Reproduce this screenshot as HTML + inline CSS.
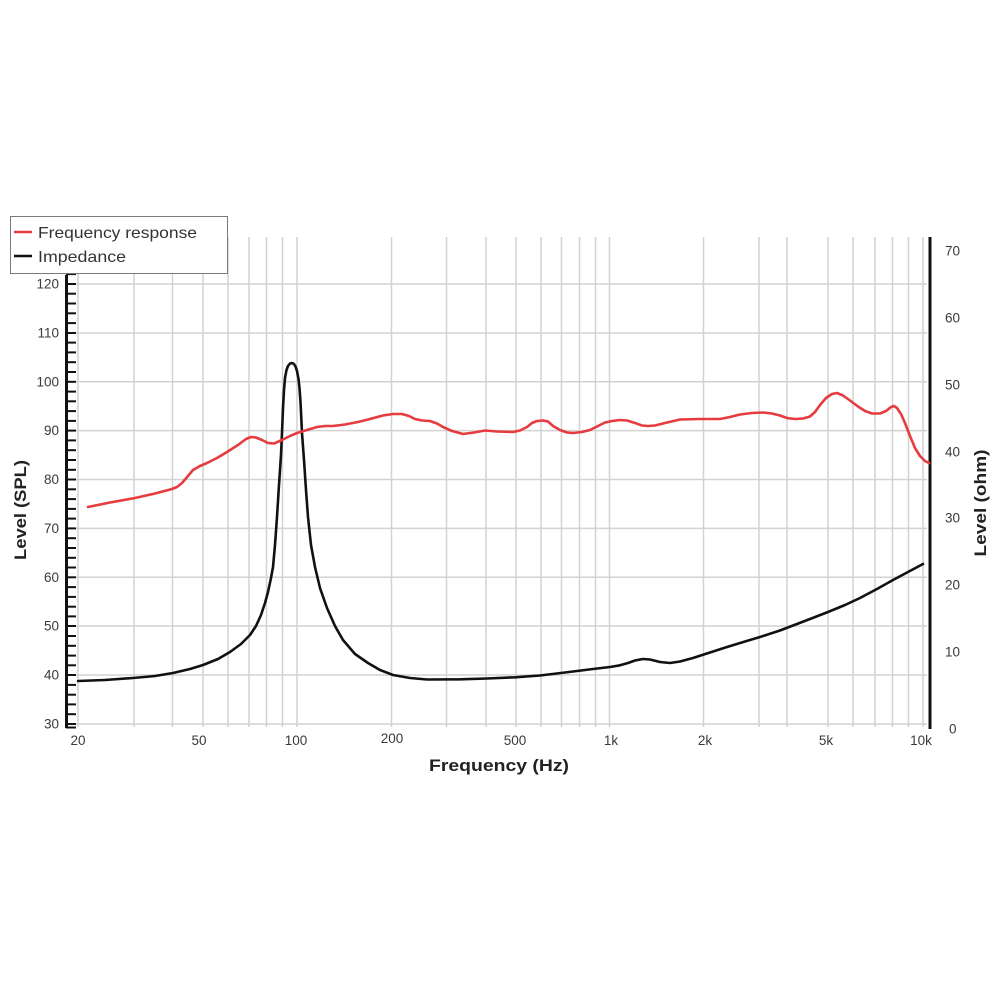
<!DOCTYPE html>
<html>
<head>
<meta charset="utf-8">
<style>
  html, body { margin: 0; padding: 0; background: #ffffff; }
  svg { display: block; }
  text { font-family: "Liberation Sans", "DejaVu Sans", sans-serif; }
</style>
</head>
<body>
<svg width="1000" height="1000" viewBox="0 0 1000 1000" xmlns="http://www.w3.org/2000/svg">
  <rect x="0" y="0" width="1000" height="1000" fill="#ffffff"/>

  <g stroke="#d2d2d2" stroke-width="1.5">
    <line x1="78" y1="237" x2="78" y2="727"/>
    <line x1="134" y1="237" x2="134" y2="727"/>
    <line x1="172.5" y1="237" x2="172.5" y2="727"/>
    <line x1="203" y1="237" x2="203" y2="727"/>
    <line x1="228" y1="237" x2="228" y2="727"/>
    <line x1="249" y1="237" x2="249" y2="727"/>
    <line x1="266.5" y1="237" x2="266.5" y2="727"/>
    <line x1="282.5" y1="237" x2="282.5" y2="727"/>
    <line x1="297" y1="237" x2="297" y2="727"/>
    <line x1="391.5" y1="237" x2="391.5" y2="727"/>
    <line x1="446.5" y1="237" x2="446.5" y2="727"/>
    <line x1="486" y1="237" x2="486" y2="727"/>
    <line x1="516" y1="237" x2="516" y2="727"/>
    <line x1="541" y1="237" x2="541" y2="727"/>
    <line x1="561.5" y1="237" x2="561.5" y2="727"/>
    <line x1="579.5" y1="237" x2="579.5" y2="727"/>
    <line x1="595.5" y1="237" x2="595.5" y2="727"/>
    <line x1="609.5" y1="237" x2="609.5" y2="727"/>
    <line x1="703.5" y1="237" x2="703.5" y2="727"/>
    <line x1="759" y1="237" x2="759" y2="727"/>
    <line x1="787" y1="237" x2="787" y2="727"/>
    <line x1="828" y1="237" x2="828" y2="727"/>
    <line x1="853" y1="237" x2="853" y2="727"/>
    <line x1="875" y1="237" x2="875" y2="727"/>
    <line x1="892.5" y1="237" x2="892.5" y2="727"/>
    <line x1="908.5" y1="237" x2="908.5" y2="727"/>
    <line x1="923" y1="237" x2="923" y2="727"/>
  </g>
  <g stroke="#d2d2d2" stroke-width="1.5">
    <line x1="74" y1="284" x2="927" y2="284"/>
    <line x1="74" y1="333" x2="927" y2="333"/>
    <line x1="74" y1="381.8" x2="927" y2="381.8"/>
    <line x1="74" y1="430.6" x2="927" y2="430.6"/>
    <line x1="74" y1="479.5" x2="927" y2="479.5"/>
    <line x1="74" y1="528.4" x2="927" y2="528.4"/>
    <line x1="74" y1="577.3" x2="927" y2="577.3"/>
    <line x1="74" y1="626" x2="927" y2="626"/>
    <line x1="74" y1="675" x2="927" y2="675"/>
    <line x1="74" y1="724" x2="927" y2="724"/>
  </g>

  <line x1="66.5" y1="275" x2="66.5" y2="728" stroke="#111" stroke-width="3"/>
  <g stroke="#111" stroke-width="2">
    <line x1="66" y1="274.1" x2="76" y2="274.1"/>
    <line x1="66" y1="284" x2="76" y2="284"/>
    <line x1="66" y1="293.7" x2="76" y2="293.7"/>
    <line x1="66" y1="303.5" x2="76" y2="303.5"/>
    <line x1="66" y1="313.3" x2="76" y2="313.3"/>
    <line x1="66" y1="323.1" x2="76" y2="323.1"/>
    <line x1="66" y1="333" x2="76" y2="333"/>
    <line x1="66" y1="342.6" x2="76" y2="342.6"/>
    <line x1="66" y1="352.4" x2="76" y2="352.4"/>
    <line x1="66" y1="362.2" x2="76" y2="362.2"/>
    <line x1="66" y1="372" x2="76" y2="372"/>
    <line x1="66" y1="381.8" x2="76" y2="381.8"/>
    <line x1="66" y1="391.6" x2="76" y2="391.6"/>
    <line x1="66" y1="401.3" x2="76" y2="401.3"/>
    <line x1="66" y1="411.1" x2="76" y2="411.1"/>
    <line x1="66" y1="420.9" x2="76" y2="420.9"/>
    <line x1="66" y1="430.6" x2="76" y2="430.6"/>
    <line x1="66" y1="440.4" x2="76" y2="440.4"/>
    <line x1="66" y1="450.2" x2="76" y2="450.2"/>
    <line x1="66" y1="460" x2="76" y2="460"/>
    <line x1="66" y1="469.8" x2="76" y2="469.8"/>
    <line x1="66" y1="479.5" x2="76" y2="479.5"/>
    <line x1="66" y1="489.3" x2="76" y2="489.3"/>
    <line x1="66" y1="499.1" x2="76" y2="499.1"/>
    <line x1="66" y1="508.9" x2="76" y2="508.9"/>
    <line x1="66" y1="518.6" x2="76" y2="518.6"/>
    <line x1="66" y1="528.4" x2="76" y2="528.4"/>
    <line x1="66" y1="538.2" x2="76" y2="538.2"/>
    <line x1="66" y1="548" x2="76" y2="548"/>
    <line x1="66" y1="557.8" x2="76" y2="557.8"/>
    <line x1="66" y1="567.5" x2="76" y2="567.5"/>
    <line x1="66" y1="577.3" x2="76" y2="577.3"/>
    <line x1="66" y1="587.1" x2="76" y2="587.1"/>
    <line x1="66" y1="596.9" x2="76" y2="596.9"/>
    <line x1="66" y1="606.7" x2="76" y2="606.7"/>
    <line x1="66" y1="616.4" x2="76" y2="616.4"/>
    <line x1="66" y1="626" x2="76" y2="626"/>
    <line x1="66" y1="636" x2="76" y2="636"/>
    <line x1="66" y1="645.8" x2="76" y2="645.8"/>
    <line x1="66" y1="655.6" x2="76" y2="655.6"/>
    <line x1="66" y1="665.3" x2="76" y2="665.3"/>
    <line x1="66" y1="675" x2="76" y2="675"/>
    <line x1="66" y1="684.9" x2="76" y2="684.9"/>
    <line x1="66" y1="694.7" x2="76" y2="694.7"/>
    <line x1="66" y1="704.4" x2="76" y2="704.4"/>
    <line x1="66" y1="714.2" x2="76" y2="714.2"/>
    <line x1="66" y1="724" x2="76" y2="724"/>
    <line x1="66" y1="727.5" x2="76" y2="727.5"/>
  </g>

  <line x1="930" y1="237" x2="930" y2="729" stroke="#111" stroke-width="3"/>

  <g font-size="13.5" fill="#3a3a3a" text-anchor="end">
    <text x="59" y="288.5">120</text>
    <text x="59" y="337.5">110</text>
    <text x="59" y="386.3">100</text>
    <text x="59" y="435.1">90</text>
    <text x="59" y="484">80</text>
    <text x="59" y="532.9">70</text>
    <text x="59" y="581.8">60</text>
    <text x="59" y="630.5">50</text>
    <text x="59" y="679.5">40</text>
    <text x="59" y="728.5">30</text>
  </g>

  <g font-size="13.5" fill="#3a3a3a" text-anchor="start">
    <text x="945" y="255.5">70</text>
    <text x="945" y="322.5">60</text>
    <text x="945" y="389.5">50</text>
    <text x="945" y="456.5">40</text>
    <text x="945" y="522.5">30</text>
    <text x="945" y="589.5">20</text>
    <text x="945" y="656.5">10</text>
    <text x="949" y="733.5">0</text>
  </g>

  <g font-size="13.5" fill="#3a3a3a" text-anchor="middle">
    <text x="78" y="745">20</text>
    <text x="199" y="745">50</text>
    <text x="296" y="745">100</text>
    <text x="392" y="743">200</text>
    <text x="515" y="745">500</text>
    <text x="611" y="745">1k</text>
    <text x="705" y="745">2k</text>
    <text x="826" y="745">5k</text>
    <text x="921" y="745">10k</text>
  </g>

  <text x="499" y="771" font-size="17" font-weight="bold" fill="#222" text-anchor="middle" textLength="140" lengthAdjust="spacingAndGlyphs">Frequency (Hz)</text>
  <text transform="translate(26,510) rotate(-90)" font-size="17" font-weight="bold" fill="#222" text-anchor="middle" textLength="100" lengthAdjust="spacingAndGlyphs">Level (SPL)</text>
  <text transform="translate(986,503) rotate(-90)" font-size="17" font-weight="bold" fill="#222" text-anchor="middle" textLength="107" lengthAdjust="spacingAndGlyphs">Level (ohm)</text>

  <polyline fill="none" stroke="#111" stroke-width="2.6" stroke-linejoin="round" stroke-linecap="round"
    points="78,681 105,680 133,678 155,676 173,673 190,669 203,665 218,659 230,652 241,644 250,635 256,626 261,615 265,603 268,592 271,578 273,567 275,545 277,517 279,485 281,455 282,433 283,408 284,390 285,378 286.5,370 288,366 290,363.5 292,363 294,364 295.5,366.5 297,371 298.5,379 299.5,388 300.5,402 302,433 304,460 306,490 308,517 311,545 315,567 320,588 327,608 335,626 343,640 355,654 368,663 380,670 393,675 410,678 427,679.5 460,679.3 487,678.5 515,677.3 540,675.5 565,672.5 593,669 610,667 620,665.3 628,663 635,660.5 643,659 650,659.5 660,662 670,663 680,661.5 693,658 710,652.5 727,647 745,641.5 760,637 780,630.5 793,625.5 810,619 828,612 845,605 860,598 877,589 893,580 908,572 923,564"/>

  <polyline fill="none" stroke="#e63b3f" stroke-width="2.6" stroke-linejoin="round" stroke-linecap="round"
    points="88,507 110,502.5 135,498 155,493.5 172,489 177,487 182,483 188,476 193,470 200,466 207,463 217,458 227,452 238,445 246,439 251,437 256,437.5 262,440 268,443 274,443.5 282,440 290,436 297,433 307,430 317,427 325,426 333,426 345,424.5 358,422 370,419 383,415.5 393,414 402,414 409,416 415,419 422,420.5 430,421 437,423.5 443,427 452,431 463,434 474,432.5 485,430.5 497,431.5 513,432 520,430.5 527,427 532,423 537,421 543,420.5 548,421.5 553,426 560,430 567,432.5 573,433 582,432 590,430 598,426 605,422.5 612,421 620,420 627,420.5 635,423 642,425.5 648,426 655,425.5 665,423 680,419.5 700,419 720,419 730,417 740,414.5 752,413 763,412.5 772,413.5 780,415.5 787,418 795,419 803,418.5 810,416.5 815,412 820,405 826,398 832,394 837,393 843,395.5 850,400.5 858,406.5 865,411 872,413.5 880,413.5 886,411 891,407 894,406 897,408 901,414 905,423 910,436 915,448 920,456 925,461 929,463"/>

  <rect x="10.5" y="216.5" width="217" height="57" fill="#ffffff" stroke="#7a7a7a" stroke-width="1"/>
  <line x1="14" y1="232" x2="32" y2="232" stroke="#e63b3f" stroke-width="2.5"/>
  <line x1="14" y1="256" x2="32" y2="256" stroke="#111" stroke-width="2.5"/>
  <text x="38" y="238" font-size="16" fill="#333" textLength="159" lengthAdjust="spacingAndGlyphs">Frequency response</text>
  <text x="38" y="262" font-size="16" fill="#333" textLength="88" lengthAdjust="spacingAndGlyphs">Impedance</text>
</svg>
</body>
</html>
